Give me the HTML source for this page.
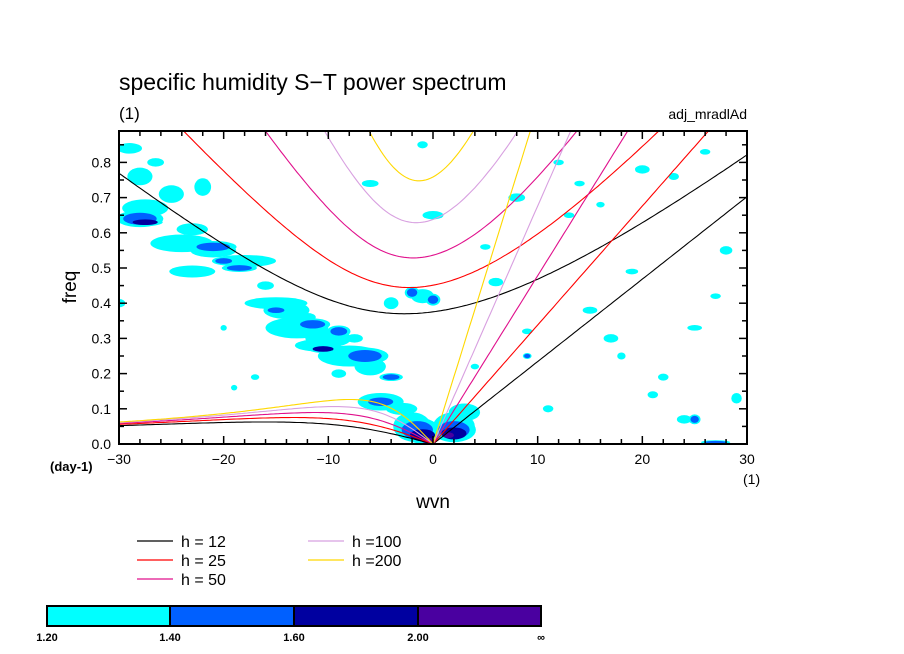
<!DOCTYPE html>
<html><head><meta charset="utf-8">
<style>
html,body{margin:0;padding:0;background:#fff;}
svg{display:block;font-family:"Liberation Sans",sans-serif;}
</style></head>
<body>
<svg id="chart" width="904" height="654" viewBox="0 0 904 654">
<defs><clipPath id="plotclip"><rect x="119" y="131" width="628" height="313"/></clipPath></defs>
<text x="119" y="90" font-size="23">specific humidity S−T power spectrum</text>
<text x="119" y="119" font-size="17">(1)</text>
<text x="747" y="119" font-size="14" text-anchor="end">adj_mradlAd</text>
<g id="blobs" clip-path="url(#plotclip)"></g>
<g id="curves" clip-path="url(#plotclip)"></g>
<g id="axes"></g>
<text x="0" y="0" font-size="19" transform="translate(76,287) rotate(-90)" text-anchor="middle">freq</text>
<text x="433" y="508" font-size="19" text-anchor="middle">wvn</text>
<text x="50" y="471" font-size="13" font-weight="bold">(day-1)</text>
<text x="743" y="484" font-size="14">(1)</text>
<g id="legend"></g>
<g id="colorbar"></g>
</svg>
<script>
const heights = [12, 25, 50, 100, 200];
const heightLabels = ["h = 12", "h = 25", "h = 50", "h =100", "h =200"];
const curveColors = ["#000000", "#ff0000", "#e0108c", "#d8a0e0", "#ffd800"];
const xTicks = [-30, -20, -10, 0, 10, 20, 30];
const yTicks = [0.0, 0.1, 0.2, 0.3, 0.4, 0.5, 0.6, 0.7, 0.8];
const levelColors = ["#00ffff", "#0060ff", "#0000a0", "#4a00a0"];
const levelLabels = ["1.20", "1.40", "1.60", "2.00", "∞"];
// blobs: wavenumber, freq, half-width (wvn), half-height (freq), level index
const blobK = [-29,-26.5,-28,-25,-22,-27.5,-23,-24,-21,-18,-23,-15,-14,-13,-10,-8,-6,-11,-5,-3,-2,2,3,-30,-4,-1,-16,-7.5,-12,-9,
  -1,-6,0,8,5,12,14,20,23,26,28,17,22,25,29,18,15,6,9,11,19,24,27,21,13,16,-20,-17,-19,4];
const blobF = [0.84,0.80,0.76,0.71,0.73,0.67,0.61,0.57,0.55,0.52,0.49,0.40,0.38,0.33,0.30,0.25,0.22,0.28,0.12,0.10,0.05,0.05,0.09,0.40,0.40,0.42,0.45,0.30,0.36,0.20,
  0.85,0.74,0.65,0.70,0.56,0.80,0.74,0.78,0.76,0.83,0.55,0.30,0.19,0.33,0.13,0.25,0.38,0.46,0.32,0.10,0.49,0.07,0.42,0.14,0.65,0.68,0.33,0.19,0.16,0.22];
const blobW = [1.2,0.8,1.2,1.2,0.8,2.2,1.5,3,2.2,3,2.2,3,2.2,3,2.2,3,1.5,2.2,2.2,1.5,1.8,2,1.5,0.6,0.7,1.1,0.8,0.8,0.8,0.7,
  0.5,0.8,1,0.8,0.5,0.5,0.5,0.7,0.5,0.5,0.6,0.7,0.5,0.7,0.5,0.4,0.7,0.7,0.5,0.5,0.6,0.7,0.5,0.5,0.5,0.4,0.3,0.4,0.3,0.4];
const blobH = [0.015,0.012,0.025,0.025,0.025,0.025,0.017,0.025,0.02,0.017,0.017,0.017,0.025,0.03,0.025,0.03,0.025,0.017,0.025,0.017,0.04,0.04,0.025,0.012,0.017,0.02,0.012,0.012,0.012,0.012,
  0.01,0.01,0.012,0.012,0.008,0.008,0.008,0.012,0.01,0.008,0.012,0.012,0.01,0.008,0.015,0.01,0.01,0.012,0.008,0.01,0.008,0.012,0.008,0.01,0.008,0.008,0.008,0.008,0.008,0.008];
const blobL = new Array(60).fill(0);
const coreK = [-28,-21,-20,-18.5,-15,-11.5,-9,-6.5,-4,-5,-1.5,2,-2,0,-27.5,-10.5,-1,2,-0.5,1.5,9,25,27];
const coreF = [0.64,0.56,0.52,0.50,0.38,0.34,0.32,0.25,0.19,0.12,0.04,0.04,0.43,0.41,0.63,0.27,0.025,0.03,0.01,0.025,0.25,0.07,0.005];
const coreW = [1.6,1.6,0.8,1.2,0.8,1.2,0.8,1.6,0.8,1.2,1.5,1.5,0.5,0.5,1.2,1,1.2,1.2,0.6,0.5,0.3,0.4,1];
const coreH = [0.017,0.012,0.008,0.008,0.008,0.012,0.012,0.017,0.008,0.012,0.025,0.025,0.012,0.012,0.008,0.008,0.017,0.017,0.008,0.008,0.006,0.01,0.004];
const coreL = [1,1,1,1,1,1,1,1,1,1,1,1,1,1,2,2,2,2,3,3,1,1,1];

const NS = "http://www.w3.org/2000/svg";
const X0 = 119, X1 = 747, Y0 = 444, Y1 = 131;
const xs = k => 433 + k * (X1 - X0) / 60;
const ys = f => Y0 - f * 352;
function mk(tag, attrs, parent){ const e=document.createElementNS(NS,tag); for(const a in attrs) e.setAttribute(a,attrs[a]); parent.appendChild(e); return e; }

const gb = document.getElementById("blobs");
function drawBlobs(K,F,W,H,L,lvl){
  for(let i=0;i<K.length;i++){ if(L[i]!==lvl) continue;
    const e = mk("ellipse",{cx:xs(K[i]),cy:ys(F[i]),rx:W[i]*10.467,ry:H[i]*352,fill:levelColors[lvl]},gb);
    
    
  }
}
drawBlobs(blobK,blobF,blobW,blobH,blobL,0);
drawBlobs(coreK,coreF,coreW.map(v=>v*1.4),coreH.map(v=>v*1.4),coreL.map(()=>0),0);
for(let l=1;l<4;l++) drawBlobs(coreK,coreF,coreW,coreH,coreL,l);

const g=9.81, beta=2.29e-11, R=6.371e6, toCpd = 86400/(2*Math.PI);
const gc = document.getElementById("curves");
function path(pts,color,name){
  const d = pts.map((p,i)=>(i?"L":"M")+xs(p[0]).toFixed(1)+","+ys(p[1]).toFixed(1)).join("");
  const e = mk("path",{d:d,fill:"none",stroke:color,"stroke-width":1.1},gc);
  
  
}
heights.forEach((h,i)=>{
  const c = Math.sqrt(g*h);
  const kel=[], ross=[], ig=[];
  for(let k=-30;k<=30.001;k+=0.25){
    const km = k/R;
    if(k>=0) kel.push([k, c*km*toCpd]);
    if(k<=0) ross.push([k, (-beta*km/(km*km+3*beta/c))*toCpd]);
    let w = Math.sqrt(c*c*km*km+3*beta*c)+1e-5;
    for(let it=0;it<40;it++){ const fv=w*w*w-(c*c*km*km+3*beta*c)*w-beta*c*c*km; const fd=3*w*w-(c*c*km*km+3*beta*c); w-=fv/fd; }
    ig.push([k, w*toCpd]);
  }
  path(kel.filter(p=>p[1]<1.2),curveColors[i],"kelvin-curve-h"+h);
  path(ross,curveColors[i],"rossby-curve-h"+h);
  path(ig.filter(p=>p[1]<1.5),curveColors[i],"inertia-gravity-curve-h"+h);
});

const ga = document.getElementById("axes");
const fr = mk("rect",{x:X0,y:Y1,width:X1-X0,height:Y0-Y1,fill:"none",stroke:"#000","stroke-width":2},ga);
 
for(let k=-30;k<=30;k+=2){
  const len = (k%10===0)?8:5;
  mk("line",{x1:xs(k),x2:xs(k),y1:Y0,y2:Y0-len,stroke:"#000","stroke-width":1.5},ga);
  mk("line",{x1:xs(k),x2:xs(k),y1:Y1,y2:Y1+len,stroke:"#000","stroke-width":1.5},ga);
}
for(let j=0;j<=17;j++){
  const f=j*0.05, len=(j%2===0)?8:5;
  mk("line",{x1:X0,x2:X0+len,y1:ys(f),y2:ys(f),stroke:"#000","stroke-width":1.5},ga);
  mk("line",{x1:X1,x2:X1-len,y1:ys(f),y2:ys(f),stroke:"#000","stroke-width":1.5},ga);
}
xTicks.forEach(k=>{
  const t = mk("text",{x:xs(k),y:Y0+20,"font-size":14,"text-anchor":"middle"},ga);
  t.textContent = (k<0?"−":"")+Math.abs(k);
   
});
yTicks.forEach(f=>{
  const t = mk("text",{x:X0-8,y:ys(f)+5,"font-size":14,"text-anchor":"end"},ga);
  t.textContent = f.toFixed(1);
   
});

const gl = document.getElementById("legend");
const lx=[137,137,137,308,308], ly=[541,560,579,541,560];
heights.forEach((h,i)=>{
  const ln = mk("line",{x1:lx[i],x2:lx[i]+36,y1:ly[i],y2:ly[i],stroke:curveColors[i],"stroke-width":1.2},gl);
   
  const t = mk("text",{x:lx[i]+44,y:ly[i]+6,"font-size":16},gl);
  t.textContent = heightLabels[i];
   
});

const gcb = document.getElementById("colorbar");
const cbx=[47,170,294,418,541];
levelColors.forEach((col,i)=>{
  const r = mk("rect",{x:cbx[i],y:606,width:cbx[i+1]-cbx[i],height:20,fill:col,stroke:"#000","stroke-width":2},gcb);
   
});
levelLabels.forEach((s,i)=>{
  const t = mk("text",{x:cbx[i],y:641,"font-size":11,"font-weight":"bold","text-anchor":"middle"},gcb);
  t.textContent = s;
   
});
</script>
</body></html>
